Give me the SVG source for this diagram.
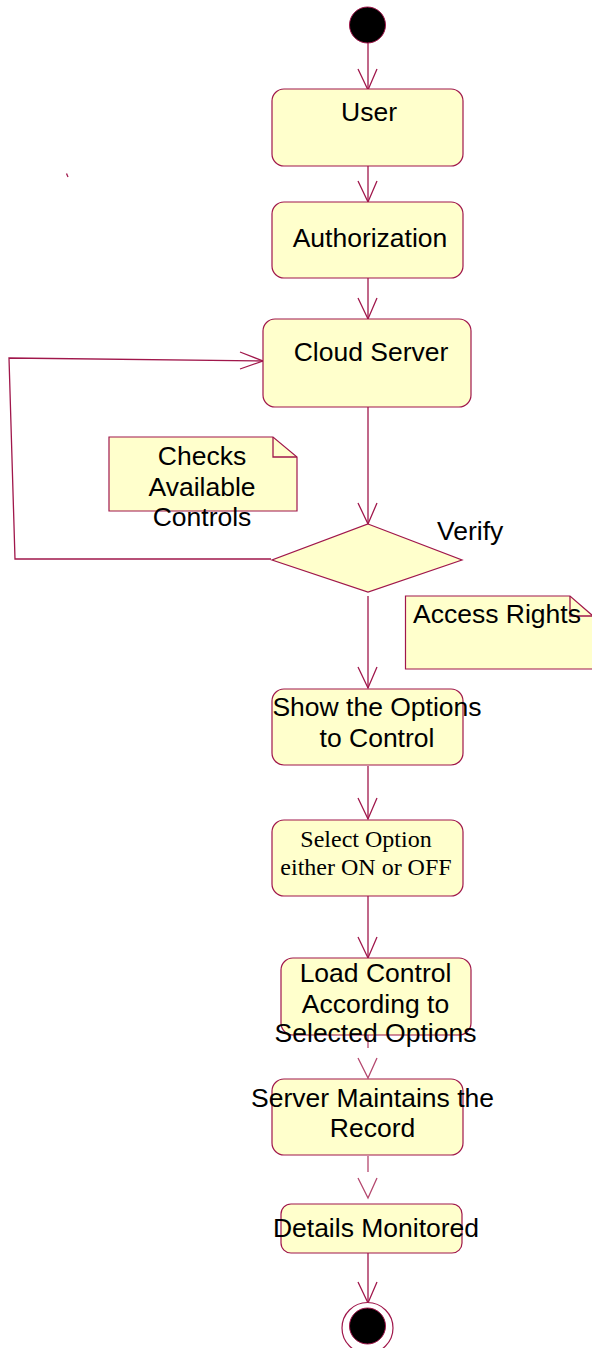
<svg xmlns="http://www.w3.org/2000/svg" width="592" height="1348" viewBox="0 0 592 1348">
<style>
.act{fill:#FFFFCC;stroke:#A0174B;stroke-width:1.2}
.ln{fill:none;stroke:#A0174B;stroke-width:1.3}
.lt{fill:none;stroke:#B4476E;stroke-width:1.3}
.t{font-family:"Liberation Sans",Arial,sans-serif;font-size:26.5px;fill:#000}
.s{font-family:"Liberation Serif","Times New Roman",serif;font-size:24px;fill:#000}
.m{text-anchor:middle}
</style>
<rect width="592" height="1348" fill="#fff"/>
<g id="connectors">
<line class="ln" x1="368" y1="42" x2="368" y2="90"/>
<path class="ln" d="M358,69 L368,90 L377,69"/>
<line class="ln" x1="368" y1="166" x2="368" y2="202"/>
<path class="ln" d="M358,181 L368,202 L377,181"/>
<line class="ln" x1="368" y1="278" x2="368" y2="319"/>
<path class="ln" d="M358,298 L368,319 L377,298"/>
<line class="ln" x1="368" y1="407" x2="368" y2="524"/>
<path class="ln" d="M358,503 L368,524 L377,503"/>
<path class="ln" d="M271,559 L15,559 L9,358 L263,361"/>
<path class="ln" d="M240,352 L263,361 L240,369"/>
<line class="ln" x1="368" y1="596" x2="368" y2="688"/>
<path class="ln" d="M358,667 L368,688 L377,667"/>
<line class="ln" x1="368" y1="766" x2="368" y2="819"/>
<path class="ln" d="M358,798 L368,819 L377,798"/>
<line class="ln" x1="368" y1="896" x2="368" y2="958"/>
<path class="ln" d="M358,937 L368,958 L377,937"/>
<line class="lt" x1="368" y1="1030" x2="368" y2="1048"/>
<path class="lt" d="M358,1058 L368,1078 L377,1058"/>
<line class="lt" x1="368" y1="1156" x2="368" y2="1172"/>
<path class="lt" d="M358,1178 L368,1198 L377,1178"/>
<line class="ln" x1="368" y1="1253" x2="368" y2="1303"/>
<path class="ln" d="M358,1282 L368,1303 L377,1282"/>
<line class="ln" x1="66.5" y1="173.5" x2="68" y2="177"/>
</g>
<g id="start"><circle cx="367.5" cy="25" r="18" fill="#000" stroke="#A0174B" stroke-width="1"/></g>
<g id="user"><rect class="act" x="272" y="89" width="191" height="77" rx="12"/><text class="t m" x="369" y="121">User</text></g>
<g id="authorization"><rect class="act" x="272" y="202" width="191" height="76" rx="12"/><text class="t m" x="370" y="247">Authorization</text></g>
<g id="cloud-server"><rect class="act" x="263" y="319" width="208" height="88" rx="12"/><text class="t m" x="371" y="361">Cloud Server</text></g>
<g id="note-checks"><path class="act" d="M109,437 L273,437 L297,457 L297,511 L109,511 Z"/><path class="ln" d="M273,437 L273,457 L297,457"/>
<text class="t m" x="202" y="465">Checks</text><text class="t m" x="202" y="496">Available</text><text class="t m" x="202" y="526">Controls</text></g>
<g id="verify"><path class="act" d="M368,524 L462,560 L368,592 L272,560 Z"/><text class="t" x="437" y="540">Verify</text></g>
<g id="note-access"><path class="act" d="M405.5,596 L570,596 L593,616 L593,669 L405.5,669 Z"/><path class="ln" d="M570,596 L570,616 L593,616"/><text class="t" x="413" y="623">Access Rights</text></g>
<g id="show-options"><rect class="act" x="272" y="689" width="191" height="76" rx="12"/><text class="t m" x="377" y="716">Show the Options</text><text class="t m" x="377" y="747">to Control</text></g>
<g id="select-option"><rect class="act" x="272" y="820" width="191" height="76" rx="12"/><text class="s m" x="366" y="847">Select Option</text><text class="s m" x="366" y="875">either ON or OFF</text></g>
<g id="load-control"><rect class="act" x="281" y="958" width="190" height="77" rx="12"/><text class="t m" x="375.5" y="982">Load Control</text><text class="t m" x="375.5" y="1013">According to</text><text class="t m" x="375.5" y="1042">Selected Options</text></g>
<g id="server-record"><rect class="act" x="272" y="1079" width="191" height="76" rx="12"/><text class="t m" x="372.5" y="1107">Server Maintains the</text><text class="t m" x="372.5" y="1137">Record</text></g>
<g id="details"><rect class="act" x="281" y="1204" width="181" height="49" rx="10"/><text class="t m" x="376" y="1237">Details Monitored</text></g>
<g id="end"><circle cx="367.5" cy="1328" r="25.5" fill="#fff" stroke="#A0174B" stroke-width="1.2"/><circle cx="367.5" cy="1326" r="18" fill="#000" stroke="#A0174B" stroke-width="1"/></g>
</svg>
